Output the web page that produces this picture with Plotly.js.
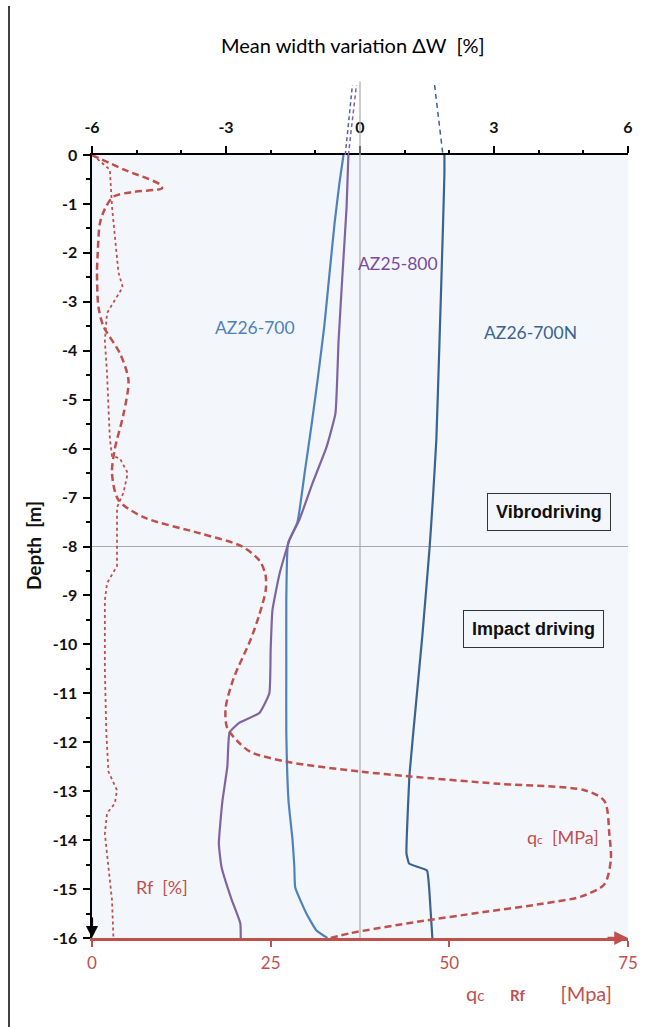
<!DOCTYPE html>
<html>
<head>
<meta charset="utf-8">
<script src="https://cdn.plot.ly/plotly-3.0.1.min.js"></script>
<style>html,body{margin:0;padding:0;background:#fff;}#chart{width:662px;height:1027px;}</style>
</head>
<body>
<div id="chart"></div>
<script>
// ---- data (depth in m, width variation in %, qc in MPa, Rf in %) ----
const az26_700_depth = [0, -0.57, -1.4, -2.4, -3.5, -4.6, -5.55, -6.5, -7.5, -7.9, -8.0, -9.1, -10.5, -11.8, -13.2, -14.0, -14.55, -14.97, -15.5, -15.84, -16];
const az26_700_dw    = [-0.37, -0.46, -0.57, -0.68, -0.8, -0.95, -1.09, -1.24, -1.4, -1.6, -1.62, -1.65, -1.65, -1.65, -1.6, -1.51, -1.47, -1.45, -1.2, -0.98, -0.73];

const az25_800_depth = [0, -1.06, -2.4, -3.8, -5.28, -5.97, -6.7, -7.46, -7.87, -8.55, -9.3, -10.1, -11.0, -11.4, -11.6, -11.8, -12.5, -13.2, -14.07, -14.55, -15.2, -15.7, -16];
const az25_800_dw    = [-0.26, -0.3, -0.39, -0.48, -0.55, -0.75, -1.06, -1.36, -1.58, -1.8, -1.96, -2.0, -2.03, -2.25, -2.7, -2.92, -2.97, -3.08, -3.16, -3.1, -2.88, -2.68, -2.67];

const az26_700n_depth = [0, -0.37, -1.7, -3.8, -5.8, -7.05, -8.0, -9.78, -11.15, -12.64, -14.27, -14.48, -14.62, -15.0, -16];
const az26_700n_dw    = [1.89, 1.89, 1.85, 1.78, 1.71, 1.63, 1.56, 1.40, 1.26, 1.11, 1.04, 1.1, 1.5, 1.55, 1.62];

// dashed extensions above ground level
const ext_depth      = [0, 1.43];
const ext_az26_700   = [-0.33, -0.17];
const ext_az25_800   = [-0.26, -0.08];
const ext_az26_700n_depth = [0.05, 1.43];
const ext_az26_700n  = [1.85, 1.67];

const qc_depth = [0, -0.3, -0.6, -0.68, -0.75, -0.85, -1.1, -1.4, -2.0, -2.4, -3.1, -3.5, -4.05, -4.6, -5.3, -6.0, -6.5, -7.05, -7.4, -7.73, -8.0, -8.3, -8.6, -8.9, -9.4, -9.9, -10.7, -11.3, -11.7, -12.0, -12.2, -12.4, -12.6, -12.7, -12.85, -12.98, -13.2, -13.9, -14.4, -14.9, -15.15, -15.3, -15.47, -15.67, -15.9, -16];
const qc_val   = [0, 4.5, 9.5, 9.8, 6, 3, 1.8, 1.1, 0.8, 0.7, 0.9, 1.6, 3.9, 5.1, 4.4, 3.2, 2.8, 3.7, 7.2, 15.1, 21, 23.5, 24.3, 24.3, 23.4, 22.2, 19.8, 18.7, 18.9, 20.5, 22.2, 27.3, 37.6, 44.6, 57, 68.9, 71.7, 72.4, 72.6, 71.7, 68.5, 63, 54.8, 45.5, 36.2, 33.4];

const rf_depth = [0, -0.3, -1.06, -1.7, -2.4, -2.7, -2.9, -3.23, -3.8, -4.45, -5.15, -5.8, -6.15, -6.2, -6.5, -6.9, -7.2, -7.87, -8.4, -8.75, -9.1, -10.5, -11.8, -12.6, -12.98, -13.25, -13.45, -13.87, -14.55, -15.23, -16];
const rf_val   = [0.1, 2.5, 2.8, 3.2, 3.7, 4.3, 3.5, 2.1, 1.8, 2.1, 2.3, 2.5, 2.8, 3.9, 5.0, 4.4, 3.5, 3.5, 3.5, 2.1, 1.8, 1.8, 2.0, 2.3, 3.5, 3.2, 2.1, 1.8, 2.3, 2.8, 3.0];

const dwTicks = [-6, -3, 0, 3, 6];
const dwTickText = ['-6', '-3', '0', '3', '6'];
const qcTicks = [0, 25, 50, 75];
const depthTicks = [0, -1, -2, -3, -4, -5, -6, -7, -8, -9, -10, -11, -12, -13, -14, -15, -16];
const depthTickText = ['0', '-1', '-2', '-3', '-4', '-5', '-6', '-7', '-8', '-9', '-10', '-11', '-12', '-13', '-14', '-15', '-16'];

// ---- styling ----
const RED = '#c0504d', BLUE = '#4f81bd', DBLUE = '#3a6391', PURPLE = '#8064a2';
const F = 'Lato, "Open Sans", sans-serif';

const traces = [
  {x: qc_val, y: qc_depth, xaxis: 'x2', yaxis: 'y', mode: 'lines',
   line: {color: RED, width: 2.5, dash: '7px,4px', shape: 'spline', smoothing: 0.8}},
  {x: rf_val, y: rf_depth, xaxis: 'x2', yaxis: 'y', mode: 'lines',
   line: {color: RED, width: 1.8, dash: 'dot'}},
  {x: az26_700_dw, y: az26_700_depth, xaxis: 'x', yaxis: 'y', mode: 'lines',
   line: {color: BLUE, width: 2.2, shape: 'spline', smoothing: 0.4}},
  {x: az25_800_dw, y: az25_800_depth, xaxis: 'x', yaxis: 'y', mode: 'lines',
   line: {color: PURPLE, width: 2.2, shape: 'spline', smoothing: 0.4}},
  {x: az26_700n_dw, y: az26_700n_depth, xaxis: 'x', yaxis: 'y', mode: 'lines',
   line: {color: DBLUE, width: 2.2, shape: 'spline', smoothing: 0.3}},
  {x: ext_az26_700, y: ext_depth, xaxis: 'x', yaxis: 'y2', mode: 'lines',
   line: {color: '#5a5fa8', width: 1.5, dash: '4px,3px'}},
  {x: ext_az25_800, y: ext_depth, xaxis: 'x', yaxis: 'y2', mode: 'lines',
   line: {color: PURPLE, width: 1.5, dash: '4px,3px'}},
  {x: ext_az26_700n, y: ext_az26_700n_depth, xaxis: 'x', yaxis: 'y2', mode: 'lines',
   line: {color: DBLUE, width: 1.5, dash: '5px,4px'}}
];

const W = 662, H = 1027, ML = 92, MR = 34, MT = 60, MB = 89;
const PW = W - ML - MR, PH = H - MT - MB;
const yTopPx = 155, yBotPx = H - MB;
const yDomTop = (yBotPx - yTopPx) / PH;
const y2Top = -16 + 16 / yDomTop;
const px = p => (p - ML) / PW;
const py = p => (yBotPx - p) / PH;

function label(x, y, text, font, extra) {
  return Object.assign({xref: 'paper', yref: 'paper', x: px(x), y: py(y), text: text,
    showarrow: false, xanchor: 'center', yanchor: 'middle', font: font}, extra || {});
}

const layout = {
  width: W, height: H,
  margin: {l: ML, r: MR, t: MT, b: MB, pad: 0},
  paper_bgcolor: '#ffffff', plot_bgcolor: 'rgba(0,0,0,0)',
  showlegend: false,
  font: {family: F, color: '#000'},
  xaxis: {
    range: [-6, 6], side: 'top', anchor: 'y', tickmode: 'array', tickvals: dwTicks, ticktext: dwTickText,
    ticks: 'outside', ticklen: 7, tickwidth: 2, tickcolor: '#000',
    showline: true, linecolor: '#000', linewidth: 2.5, showgrid: false, zeroline: false,
    minor: {dtick: 1, tick0: -6, ticks: 'outside', ticklen: 3, tickwidth: 2, tickcolor: '#000'},
    tickfont: {family: F, size: 16, color: '#111', weight: 'bold'}, ticklabelstandoff: 6
  },
  xaxis2: {
    range: [0, 75], overlaying: 'x', side: 'bottom', anchor: 'y', tickmode: 'array', tickvals: qcTicks,
    ticks: 'outside', ticklen: 6, tickwidth: 2, tickcolor: RED,
    showline: true, linecolor: RED, linewidth: 3, showgrid: false, zeroline: false,
    tickfont: {family: F, size: 17, color: RED}, ticklabelstandoff: 2
  },
  yaxis: {
    range: [-16, 0], domain: [0, yDomTop], anchor: 'x', tickmode: 'array',
    tickvals: depthTicks, ticktext: depthTickText,
    ticks: 'outside', ticklen: 7, tickwidth: 2, tickcolor: '#000',
    showline: true, linecolor: '#000', linewidth: 2.5, showgrid: false, zeroline: false,
    minor: {dtick: 0.5, tick0: 0, ticks: 'outside', ticklen: 4, tickwidth: 2, tickcolor: '#000'},
    tickfont: {family: F, size: 16, color: '#111', weight: 'bold'}, ticklabelstandoff: 2
  },
  yaxis2: {range: [-16, y2Top], domain: [0, 1], anchor: 'x', visible: false},
  shapes: [
    {type: 'rect', xref: 'x', yref: 'y', x0: -6, x1: 6, y0: -16, y1: 0,
     fillcolor: '#f3f7fb', line: {width: 0}, layer: 'below'},
    {type: 'line', xref: 'x', yref: 'y', x0: -6, x1: 6, y0: -8, y1: -8,
     line: {color: '#a9a9a9', width: 1.2}, layer: 'below'},
    {type: 'line', xref: 'x', yref: 'y2', x0: 0, x1: 0, y0: -16, y1: 1.5,
     line: {color: '#a9a9a9', width: 1.2}, layer: 'below'},
    {type: 'line', xref: 'paper', yref: 'paper', x0: px(9), x1: px(9), y0: py(6), y1: py(1027),
     line: {color: '#000', width: 1.5}}
  ],
  annotations: [
    label(353, 45, 'Mean width variation ΔW  [%]', {family: F, size: 20, color: '#000'}),
    label(33, 546, 'Depth  [m]', {family: F, size: 19, color: '#111', weight: 'bold'}, {textangle: -90}),
    label(398, 263, 'AZ25-800', {family: F, size: 17.5, color: '#7a4a9e'}),
    label(255, 327, 'AZ26-700', {family: F, size: 17.5, color: BLUE}),
    label(530, 332, 'AZ26-700N', {family: F, size: 17.5, color: DBLUE}),
    label(549, 512, 'Vibrodriving',
      {family: 'Liberation Sans, Arial, sans-serif', size: 18, color: '#111', weight: 'bold'},
      {bordercolor: '#333', borderwidth: 1, borderpad: 8}),
    label(533, 629, 'Impact driving',
      {family: 'Liberation Sans, Arial, sans-serif', size: 18, color: '#111', weight: 'bold'},
      {bordercolor: '#333', borderwidth: 1, borderpad: 8}),
    label(563, 837, 'q<span style="font-size:12px">c</span>  [MPa]', {family: F, size: 18, color: RED}),
    label(162, 887, 'Rf  [%]', {family: F, size: 18, color: RED}),
    label(539, 993, 'q<span style="font-size:15px">c</span>     <b><span style="font-size:15px">Rf</span></b>       [Mpa]',
      {family: F, size: 20, color: RED}),
    // axis arrows
    {xref: 'x', yref: 'y', x: -6, y: -16, ax: 0, ay: -22, text: '', showarrow: true,
     arrowhead: 2, arrowsize: 1.1, arrowwidth: 2.2, arrowcolor: '#000'},
    {xref: 'x2', yref: 'y', x: 75, y: -16, ax: -22, ay: 0, text: '', showarrow: true,
     arrowhead: 2, arrowsize: 1.1, arrowwidth: 2.5, arrowcolor: RED}
  ]
};

Plotly.newPlot('chart', traces, layout, {displayModeBar: false, staticPlot: true});
</script>
</body>
</html>
